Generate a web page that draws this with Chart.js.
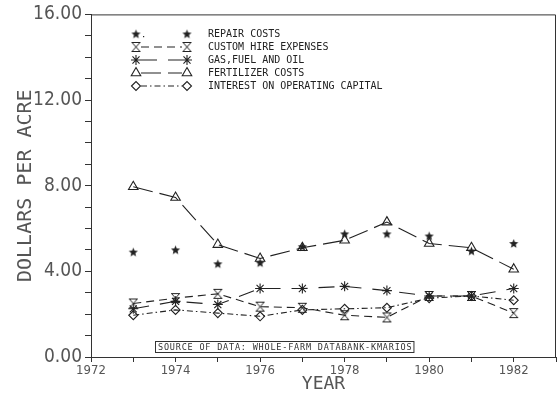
<!DOCTYPE html>
<html>
<head>
<meta charset="utf-8">
<script src="https://cdn.jsdelivr.net/npm/chart.js@4"></script>
<style>
  html, body { margin: 0; padding: 0; background: #fff; }
  #wrap { width: 557px; height: 395px; position: relative; }
</style>
</head>
<body>
<div id="wrap"><canvas id="c" width="557" height="395"></canvas></div>
<script>
// Farm cost components, dollars per acre, 1973-1982
const years = [1973, 1974, 1975, 1976, 1977, 1978, 1979, 1980, 1981, 1982];
const repairCosts = [4.9, 5.0, 4.35, 4.4, 5.15, 5.75, 5.75, 5.65, 4.95, 5.3];
const customHire = [2.5, 2.75, 2.95, 2.35, 2.3, 1.95, 1.85, 2.85, 2.85, 2.05];
const gasFuelOil = [2.25, 2.6, 2.45, 3.2, 3.2, 3.3, 3.1, 2.85, 2.85, 3.2];
const fertilizer = [7.95, 7.45, 5.25, 4.6, 5.1, 5.45, 6.3, 5.3, 5.1, 4.1];
const interestCapital = [1.95, 2.2, 2.05, 1.9, 2.2, 2.25, 2.3, 2.75, 2.85, 2.65];

const seriesLabels = [
  'REPAIR COSTS',
  'CUSTOM HIRE EXPENSES',
  'GAS,FUEL AND OIL',
  'FERTILIZER COSTS',
  'INTEREST ON OPERATING CAPITAL'
];
const yTickLabels = ['0.00', '4.00', '8.00', '12.00', '16.00'];
const xTickLabels = ['1972', '1974', '1976', '1978', '1980', '1982'];
const sourceNote = 'SOURCE OF DATA: WHOLE-FARM DATABANK-KMARIOS';

const INK = '#222';
const MONO = "'DejaVu Sans Mono', 'Liberation Mono', monospace";
const NARROW = "'Liberation Sans Narrow', 'DejaVu Sans Condensed', 'DejaVu Sans Mono', sans-serif";

// small canvases used as point markers
function marker(w, h, draw) {
  const c = document.createElement('canvas');
  c.width = w; c.height = h;
  const g = c.getContext('2d');
  g.strokeStyle = INK; g.fillStyle = INK; g.lineWidth = 1;
  draw(g, w, h);
  return c;
}
const starMarker = marker(11, 11, (g, w, h) => {
  const cx = w / 2, cy = h / 2 + 0.3, ro = 4.8, ri = 2.1;
  g.beginPath();
  for (let i = 0; i < 10; i++) {
    const r = i % 2 ? ri : ro;
    const a = -Math.PI / 2 + i * Math.PI / 5;
    const x = cx + r * Math.cos(a), y = cy + r * Math.sin(a);
    i ? g.lineTo(x, y) : g.moveTo(x, y);
  }
  g.closePath();
  g.fill();
});
const hourglassMarker = marker(11, 12, (g) => {
  g.beginPath();
  g.moveTo(1, 1.5); g.lineTo(10, 1.5);
  g.moveTo(1, 10.5); g.lineTo(10, 10.5);
  g.moveTo(1.5, 1.5); g.lineTo(9.5, 10.5);
  g.moveTo(9.5, 1.5); g.lineTo(1.5, 10.5);
  g.stroke();
});

const datasets = [
  { label: seriesLabels[0], data: repairCosts, pointStyle: starMarker, showLine: false, borderDash: [] },
  { label: seriesLabels[1], data: customHire, pointStyle: hourglassMarker, borderDash: [8, 5] },
  { label: seriesLabels[2], data: gasFuelOil, pointStyle: 'star', pointRadius: 5, borderDash: [16, 11] },
  { label: seriesLabels[3], data: fertilizer, pointStyle: 'triangle', pointRadius: 5.5, borderDash: [20, 7] },
  { label: seriesLabels[4], data: interestCapital, pointStyle: 'rectRot', pointRadius: 4.5, borderDash: [6, 3, 1.5, 3] }
].map(d => Object.assign({
  borderColor: INK,
  backgroundColor: 'rgba(0,0,0,0)',
  pointBorderColor: INK,
  pointBackgroundColor: 'rgba(0,0,0,0)',
  pointBorderWidth: 1.1,
  pointRadius: 5,
  borderWidth: 1.1,
  tension: 0,
  showLine: true
}, d, { data: d.data.map((v, i) => ({ x: years[i], y: v })) }));

// frame, legend block and source note
const decorations = {
  id: 'decorations',
  afterDraw(chart) {
    const ctx = chart.ctx;
    const a = chart.chartArea;
    ctx.save();
    ctx.strokeStyle = '#333';
    ctx.lineWidth = 1;
    ctx.beginPath();
    ctx.moveTo(a.left, a.top + 0.5); ctx.lineTo(a.right - 0.5, a.top + 0.5);
    ctx.lineTo(a.right - 0.5, a.bottom);
    ctx.stroke();

    // legend
    const x1 = 136, x2 = 187, tx = 208;
    const rows = [34, 47, 60, 73, 86];
    ctx.font = '10px ' + MONO;
    ctx.textBaseline = 'middle';
    chart.data.datasets.forEach((ds, i) => {
      const y = rows[i];
      ctx.strokeStyle = INK;
      ctx.lineWidth = 1.1;
      ctx.fillStyle = INK;
      if (ds.showLine !== false) {
        ctx.setLineDash(ds.borderDash || []);
        ctx.beginPath();
        ctx.moveTo(x1 + 5, y); ctx.lineTo(x2 - 5, y);
        ctx.stroke();
        ctx.setLineDash([]);
      } else {
        ctx.fillRect(x1 + 7, y + 2, 1.2, 1.2);
      }
      [x1, x2].forEach(x => {
        ctx.fillStyle = 'rgba(0,0,0,0)';
        ctx.strokeStyle = INK;
        ctx.lineWidth = ds.pointBorderWidth;
        Chart.helpers.drawPoint(ctx, {
          pointStyle: ds.pointStyle,
          radius: ds.pointRadius,
          rotation: 0,
          borderWidth: ds.pointBorderWidth
        }, x, y);
      });
      ctx.fillStyle = INK;
      ctx.fillText(ds.label, tx, y + 0.5);
    });

    // source note
    ctx.font = '8.5px ' + MONO;
    ctx.letterSpacing = '0.8px';
    const w = ctx.measureText(sourceNote).width;
    const bx = 155, by = 341;
    ctx.strokeStyle = '#333';
    ctx.lineWidth = 1;
    ctx.strokeRect(bx + 0.5, by + 0.5, w + 4, 11);
    ctx.fillStyle = '#333';
    ctx.textBaseline = 'middle';
    ctx.fillText(sourceNote, bx + 3, by + 7);
    ctx.restore();
  }
};

new Chart(document.getElementById('c'), {
  type: 'line',
  data: { datasets },
  plugins: [decorations],
  options: {
    responsive: false,
    animation: false,
    events: [],
    layout: { autoPadding: false, padding: { top: 14, right: 1, left: 0, bottom: 0 } },
    plugins: { legend: { display: false }, tooltip: { enabled: false } },
    scales: {
      x: {
        type: 'linear',
        min: 1972,
        max: 1983,
        ticks: {
          stepSize: 1,
          autoSkip: false,
          maxRotation: 0,
          color: '#555',
          font: { family: NARROW, size: 13 },
          padding: 1,
          callback: v => xTickLabels.includes(String(v)) ? String(v) : ''
        },
        grid: { drawOnChartArea: false, tickLength: 5, color: '#333', lineWidth: 1 },
        border: { color: '#333', width: 1 },
        title: {
          display: true, text: 'YEAR', color: '#555',
          font: { family: MONO, size: 18 }, padding: { top: 0, bottom: 0 }
        },
        afterFit: s => { s.height = 38; s.paddingLeft = 0; s.paddingRight = 0; }
      },
      y: {
        min: 0,
        max: 16,
        ticks: {
          stepSize: 1,
          autoSkip: false,
          color: '#555',
          font: { family: NARROW, size: 19 },
          padding: 3,
          callback: v => v % 4 === 0 ? yTickLabels[v / 4] : ''
        },
        grid: { drawOnChartArea: false, tickLength: 6, color: '#333', lineWidth: 1 },
        border: { color: '#333', width: 1 },
        title: {
          display: true, text: 'DOLLARS PER ACRE', color: '#555',
          font: { family: MONO, size: 20 }, padding: { top: 14, bottom: 0 }
        },
        afterFit: s => { s.width = 91; }
      }
    }
  }
});
</script>
</body>
</html>
